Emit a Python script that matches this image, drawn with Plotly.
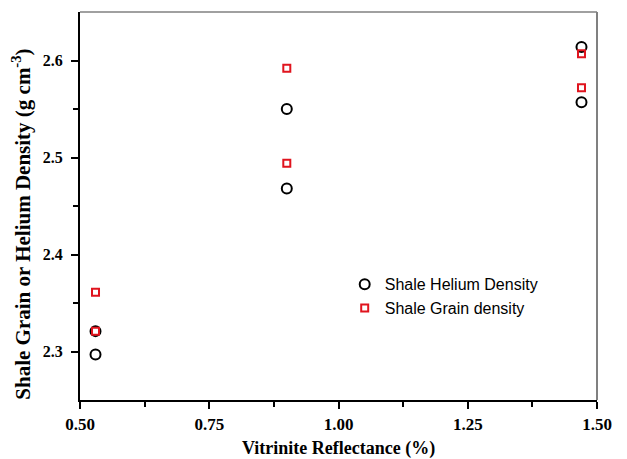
import plotly.graph_objects as go

x_vals = [0.53, 0.53, 0.90, 0.90, 1.47, 1.47]
helium = [2.297, 2.321, 2.468, 2.550, 2.557, 2.614]
grain = [2.361, 2.321, 2.494, 2.592, 2.572, 2.607]

fig = go.Figure()
fig.add_trace(go.Scatter(
    x=x_vals, y=helium, mode="markers", name="Shale Helium Density",
    marker=dict(symbol="circle-open", size=10, color="black", line=dict(width=2, color="black"))))
fig.add_trace(go.Scatter(
    x=x_vals, y=grain, mode="markers", name="Shale Grain density",
    marker=dict(symbol="square-open", size=7, color="#e0141e", line=dict(width=2, color="#e0141e"))))

tickfont = dict(family="Liberation Serif", size=16, color="black", weight="bold")
xtickfont = dict(family="Liberation Serif", size=17, color="black", weight="bold")
fig.update_layout(
    width=627, height=459,
    margin=dict(l=80, r=30, t=12, b=59),
    plot_bgcolor="white", paper_bgcolor="white",
    showlegend=True,
    legend=dict(x=0.512, y=0.342, xanchor="left", yanchor="top",
                font=dict(family="Liberation Sans", size=16, color="black"),
                bgcolor="rgba(0,0,0,0)", itemsizing="trace", tracegroupgap=0),
    xaxis=dict(range=[0.5, 1.5], tickvals=[0.5, 0.75, 1.0, 1.25, 1.5],
               ticktext=["0.50", "0.75", "1.00", "1.25", "1.50"],
               ticks="outside", ticklen=7, tickwidth=1.5, tickcolor="black",
               minor=dict(tickvals=[0.625, 0.875, 1.125, 1.375], ticks="outside", ticklen=5, tickcolor="black", tickwidth=1.5),
               showline=True, linecolor="black", linewidth=2, showgrid=False, zeroline=False,
               tickfont=xtickfont, ticklabelstandoff=1, automargin=False,
               title=dict(text="Vitrinite Reflectance (%)", font=dict(family="Liberation Serif", size=18, color="black", weight="bold"), standoff=12)),
    yaxis=dict(range=[2.25, 2.65], tickvals=[2.3, 2.4, 2.5, 2.6],
               ticks="outside", ticklen=7, tickwidth=1.5, tickcolor="black",
               minor=dict(tickvals=[2.35, 2.45, 2.55], ticks="outside", ticklen=5, tickcolor="black", tickwidth=1.5),
               showline=True, linecolor="black", linewidth=2, showgrid=False, zeroline=False,
               tickfont=tickfont, ticklabelstandoff=5, automargin=False),
)
fig.add_annotation(text="Shale Grain or Helium Density (g cm<sup>-3</sup>)", textangle=-90,
                   xref="paper", yref="paper", x=-0.112, y=0.452, xanchor="center", yanchor="middle",
                   showarrow=False, font=dict(family="Liberation Serif", size=21, color="black", weight="bold"))
fig.add_shape(type="line", xref="paper", yref="paper", x0=0, x1=1, y0=1, y1=1, line=dict(color="#808080", width=1.5))
fig.add_shape(type="line", xref="paper", yref="paper", x0=1, x1=1, y0=0, y1=1, line=dict(color="#808080", width=2))

fig.write_html("out.html")
